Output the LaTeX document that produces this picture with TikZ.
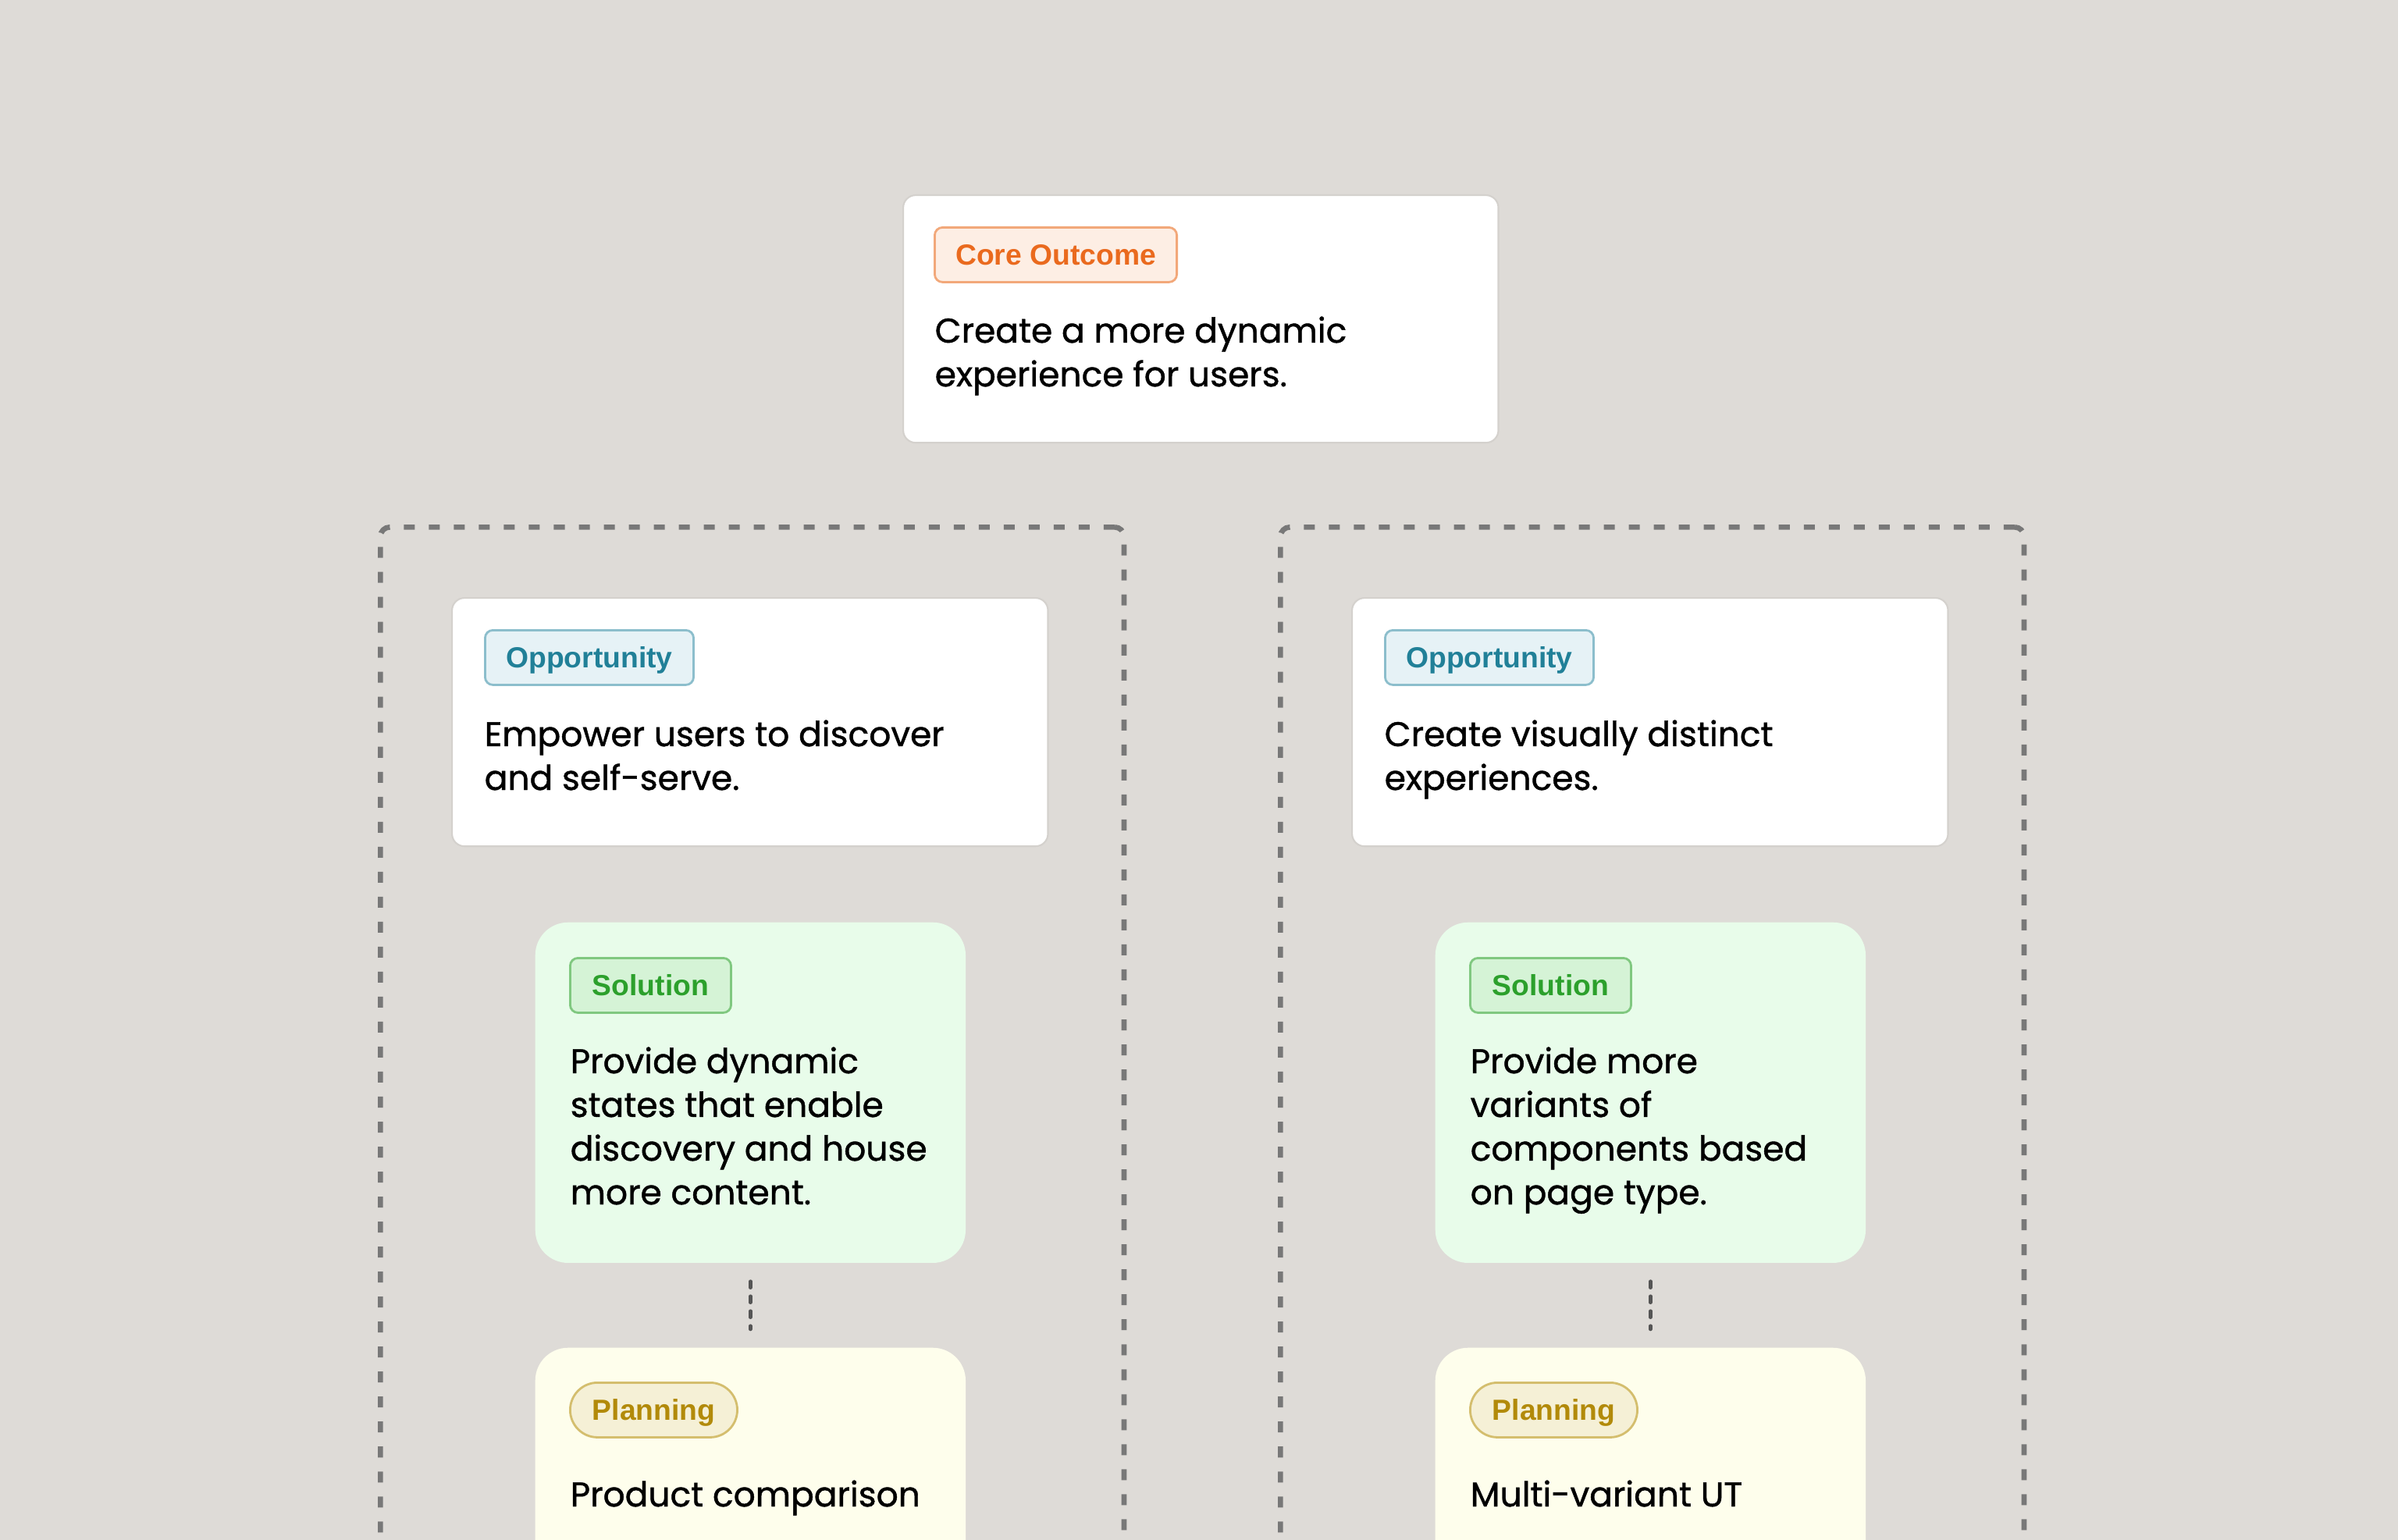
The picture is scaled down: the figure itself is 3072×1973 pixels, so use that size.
\documentclass[tikz,border=0pt]{standalone}
\usepackage{fontspec}
\setmainfont{Poppins}
\newfontfamily\bodyfont{Poppins}[FakeBold=1.0]
\newfontfamily\tagfont{Liberation Sans}
\definecolor{bg}{RGB}{222,219,215}
\definecolor{coreFill}{RGB}{253,238,228}
\definecolor{coreLine}{RGB}{242,168,122}
\definecolor{coreText}{RGB}{234,106,30}
\definecolor{oppFill}{RGB}{230,242,246}
\definecolor{oppLine}{RGB}{140,190,204}
\definecolor{oppText}{RGB}{33,128,152}
\definecolor{solCard}{RGB}{232,252,234}
\definecolor{solFill}{RGB}{213,243,214}
\definecolor{solLine}{RGB}{128,200,128}
\definecolor{solText}{RGB}{44,160,44}
\definecolor{planCard}{RGB}{254,254,236}
\definecolor{planFill}{RGB}{245,240,214}
\definecolor{planLine}{RGB}{212,190,110}
\definecolor{planText}{RGB}{178,138,10}
\definecolor{groupLine}{RGB}{120,120,120}
\definecolor{connLine}{RGB}{85,85,85}
\definecolor{shade}{RGB}{212,209,205}
\tikzset{
  card/.style={rectangle, draw=none, inner sep=0pt, anchor=north west, rounded corners=0.16cm},
  whitecard/.style={card, fill=white, draw=shade, line width=0.6pt},
  solcard/.style={card, fill=solCard, rounded corners=0.42cm, minimum width=5.51cm, minimum height=4.36cm},
  plancard/.style={card, fill=planCard, rounded corners=0.42cm, minimum width=5.51cm, minimum height=4.5cm},
  groupbox/.style={rectangle, draw=groupLine, line width=1.9pt, dash pattern=on 0.14cm off 0.18cm, rounded corners=0.12cm, anchor=north west, inner sep=0pt, minimum width=9.52cm, minimum height=14cm},
  tagbox/.style={rectangle, anchor=north west, inner sep=0pt, line width=0.8pt, rounded corners=0.1cm, minimum height=0.70cm, text height=0.26cm, text depth=0cm, font=\tagfont\bfseries\fontsize{10.6}{12}\selectfont},
  coretag/.style={tagbox, fill=coreFill, draw=coreLine, text=coreText, minimum width=3.10cm},
  opptag/.style={tagbox, fill=oppFill, draw=oppLine, text=oppText, minimum width=2.67cm},
  soltag/.style={tagbox, fill=solFill, draw=solLine, text=solText, minimum width=2.06cm},
  plantag/.style={tagbox, fill=planFill, draw=planLine, text=planText, minimum width=2.14cm, rounded corners=0.35cm},
  body/.style={anchor=base west, inner sep=0pt, align=left, text=black, font=\bodyfont\fontsize{12.5}{15.93}\selectfont},
  conn/.style={draw=connLine, line width=1.3pt, line cap=round, dash pattern=on 0.08cm off 0.11cm}
}
\begin{document}
\begin{tikzpicture}[x=0.01cm, y=-0.01cm]
\fill[bg] (0,0) rectangle (3072,1973);
\useasboundingbox (0,0) rectangle (3072,1973);
\clip (0,0) rectangle (3072,1973);

% core outcome
\node[whitecard, minimum width=7.62cm, minimum height=3.17cm] (core) at (1156,249) {};
\node[coretag] (coreTag) at (1196,290) {Core Outcome};
\node[body] (coreTxt) at (1197,495) {Create a more dynamic\\experience for users.};

% group boxes
\node[groupbox] (groupL) at (484,672) {};
\node[groupbox] (groupR) at (1637,672) {};

% left column
\node[whitecard, minimum width=7.63cm, minimum height=3.18cm] (oppL) at (578,765) {};
\node[opptag] (oppLTag) at (620,806) {Opportunity};
\node[body] (oppLTxt) at (620,1012) {Empower users to discover\\and self-serve.};

\node[solcard] (solL) at (685,1181) {};
\node[soltag] (solLTag) at (729,1226) {Solution};
\node[body] (solLTxt) at (730,1543) {Provide dynamic\\states that enable\\discovery and house\\more content.};

\node[plancard] (planL) at (685,1726) {};
\node[plantag] (planLTag) at (729,1770) {Planning};
\node[body] (planLTxt) at (730,1930) {Product comparison};

\draw[conn] ([yshift=-0.23cm]solL.south) -- ([yshift=0.23cm]planL.north);

% right column
\node[whitecard, minimum width=7.63cm, minimum height=3.18cm] (oppR) at (1731,765) {};
\node[opptag] (oppRTag) at (1773,806) {Opportunity};
\node[body] (oppRTxt) at (1773,1012) {Create visually distinct\\experiences.};

\node[solcard] (solR) at (1838,1181) {};
\node[soltag] (solRTag) at (1882,1226) {Solution};
\node[body] (solRTxt) at (1883,1543) {Provide more\\variants of\\components based\\on page type.};

\node[plancard] (planR) at (1838,1726) {};
\node[plantag] (planRTag) at (1882,1770) {Planning};
\node[body] (planRTxt) at (1883,1930) {Multi-variant UT};

\draw[conn] ([yshift=-0.23cm]solR.south) -- ([yshift=0.23cm]planR.north);
\end{tikzpicture}
\end{document}
